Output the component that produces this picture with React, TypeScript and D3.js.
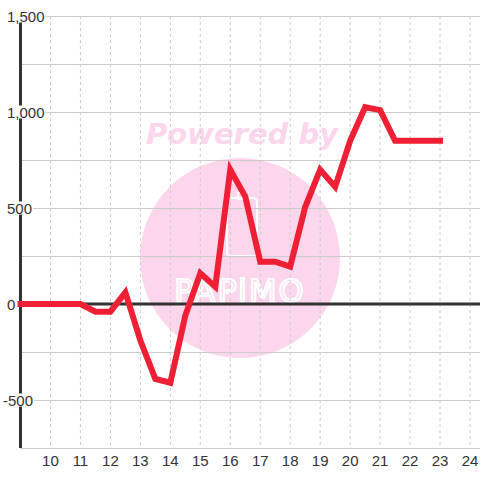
import React from "react";
import * as d3 from "d3";

const hours = [9, 9.5, 10, 10.5, 11, 11.5, 12, 12.5, 13, 13.5, 14, 14.5, 15, 15.5, 16, 16.5, 17, 17.5, 18, 18.5, 19, 19.5, 20, 20.5, 21, 21.5, 22, 22.5, 23];
const values = [0, 0, 0, 0, 0, -40, -40, 60, -190, -390, -410, -60, 160, 90, 700, 560, 220, 220, 195, 505, 700, 610, 850, 1025, 1010, 850, 850, 850, 850];
const xTicks = [10, 11, 12, 13, 14, 15, 16, 17, 18, 19, 20, 21, 22, 23, 24];
const yGrid = [-750, -500, -250, 0, 250, 500, 750, 1000, 1250, 1500];
const yLabels = [-500, 0, 500, 1000, 1500];

const W = 480;
const H = 480;
const left = 20.5;
const right = 480;
const top = 16;
const bottom = 448;

function textWidth(s: string) {
  let w = 0;
  for (const c of s) {
    if (c === ",") w += 4.17;
    else if (c === "-") w += 5.0;
    else w += 8.34;
  }
  return w;
}

export default function App() {
  const x = d3.scaleLinear().domain([9, 24 + 1 / 3]).range([left, right]);
  const y = d3.scaleLinear().domain([-750, 1500]).range([bottom, top]);
  const pts = hours.map((h, i) => [h, values[i]] as [number, number]);
  const line = d3
    .line<[number, number]>()
    .x((d) => x(d[0]))
    .y((d) => y(d[1]));
  const fmt = d3.format(",");
  const font = "'Liberation Sans', Arial, sans-serif";

  return (
    <svg
      width={W}
      height={H}
      style={{ position: "absolute", left: 0, top: 0, background: "#ffffff" }}
    >
      {/* watermark */}
      <g>
        <text
          x={242}
          y={144}
          textAnchor="middle"
          fontFamily="'DejaVu Sans', sans-serif"
          fontWeight="bold"
          fontStyle="italic"
          fontSize={29}
          fill="#fcd6ec"
        >
          Powered by
        </text>
        <circle cx={240} cy={258} r={100} fill="#fcd6ec" />
        <rect x={227} y={198} width={30} height={58} rx={4} fill="none" stroke="#ffffff" strokeWidth={2} />
        <rect x={238} y={193} width={8} height={6} fill="none" stroke="#ffffff" strokeWidth={2} />
        <text
          x={240}
          y={302}
          textAnchor="middle"
          fontFamily="'DejaVu Sans', sans-serif"
          fontSize={32}
          fill="none"
          stroke="#ffffff"
          strokeWidth={2}
          letterSpacing={2}
        >
          PAPiMO
        </text>
      </g>
      {/* vertical dashed grid */}
      {xTicks.map((t) => (
        <line
          key={"vx" + t}
          x1={x(t)}
          x2={x(t)}
          y1={top}
          y2={bottom}
          stroke="#cccccc"
          strokeWidth={1}
          strokeDasharray="3,3"
        />
      ))}
      {/* horizontal grid */}
      {yGrid.map((v) => (
        <line
          key={"hy" + v}
          x1={left}
          x2={right}
          y1={Math.round(y(v)) + 0.5}
          y2={Math.round(y(v)) + 0.5}
          stroke="#cccccc"
          strokeWidth={1}
        />
      ))}
      {/* y axis line */}
      <line x1={left} x2={left} y1={top} y2={bottom} stroke="#333333" strokeWidth={3} />
      {/* zero line */}
      <line x1={left} x2={right} y1={y(0)} y2={y(0)} stroke="#333333" strokeWidth={3} />
      {/* y labels with background */}
      {yLabels.map((v) => {
        const s = fmt(v).replace("−", "-");
        const w = textWidth(s);
        const x0 = v < 0 ? 3 : 7;
        return (
          <g key={"yl" + v}>
            <rect x={x0 - 1} y={y(v) - 6.5} width={w + 2} height={13} fill="#ffffff" />
            <text
              x={x0}
              y={y(v) + 5.5}
              textAnchor="start"
              fontFamily={font}
              fontSize={15}
              fill="#333333"
            >
              {s}
            </text>
          </g>
        );
      })}
      {/* data */}
      <path
        d={line(pts) || ""}
        fill="none"
        stroke="#ef2035"
        strokeWidth={6}
        strokeLinecap="square"
        strokeLinejoin="miter"
      />
      {/* x labels */}
      {xTicks.map((t) => (
        <text
          key={"xl" + t}
          x={x(t)}
          y={466}
          textAnchor="middle"
          fontFamily={font}
          fontSize={15}
          fill="#333333"
        >
          {t}
        </text>
      ))}
    </svg>
  );
}
